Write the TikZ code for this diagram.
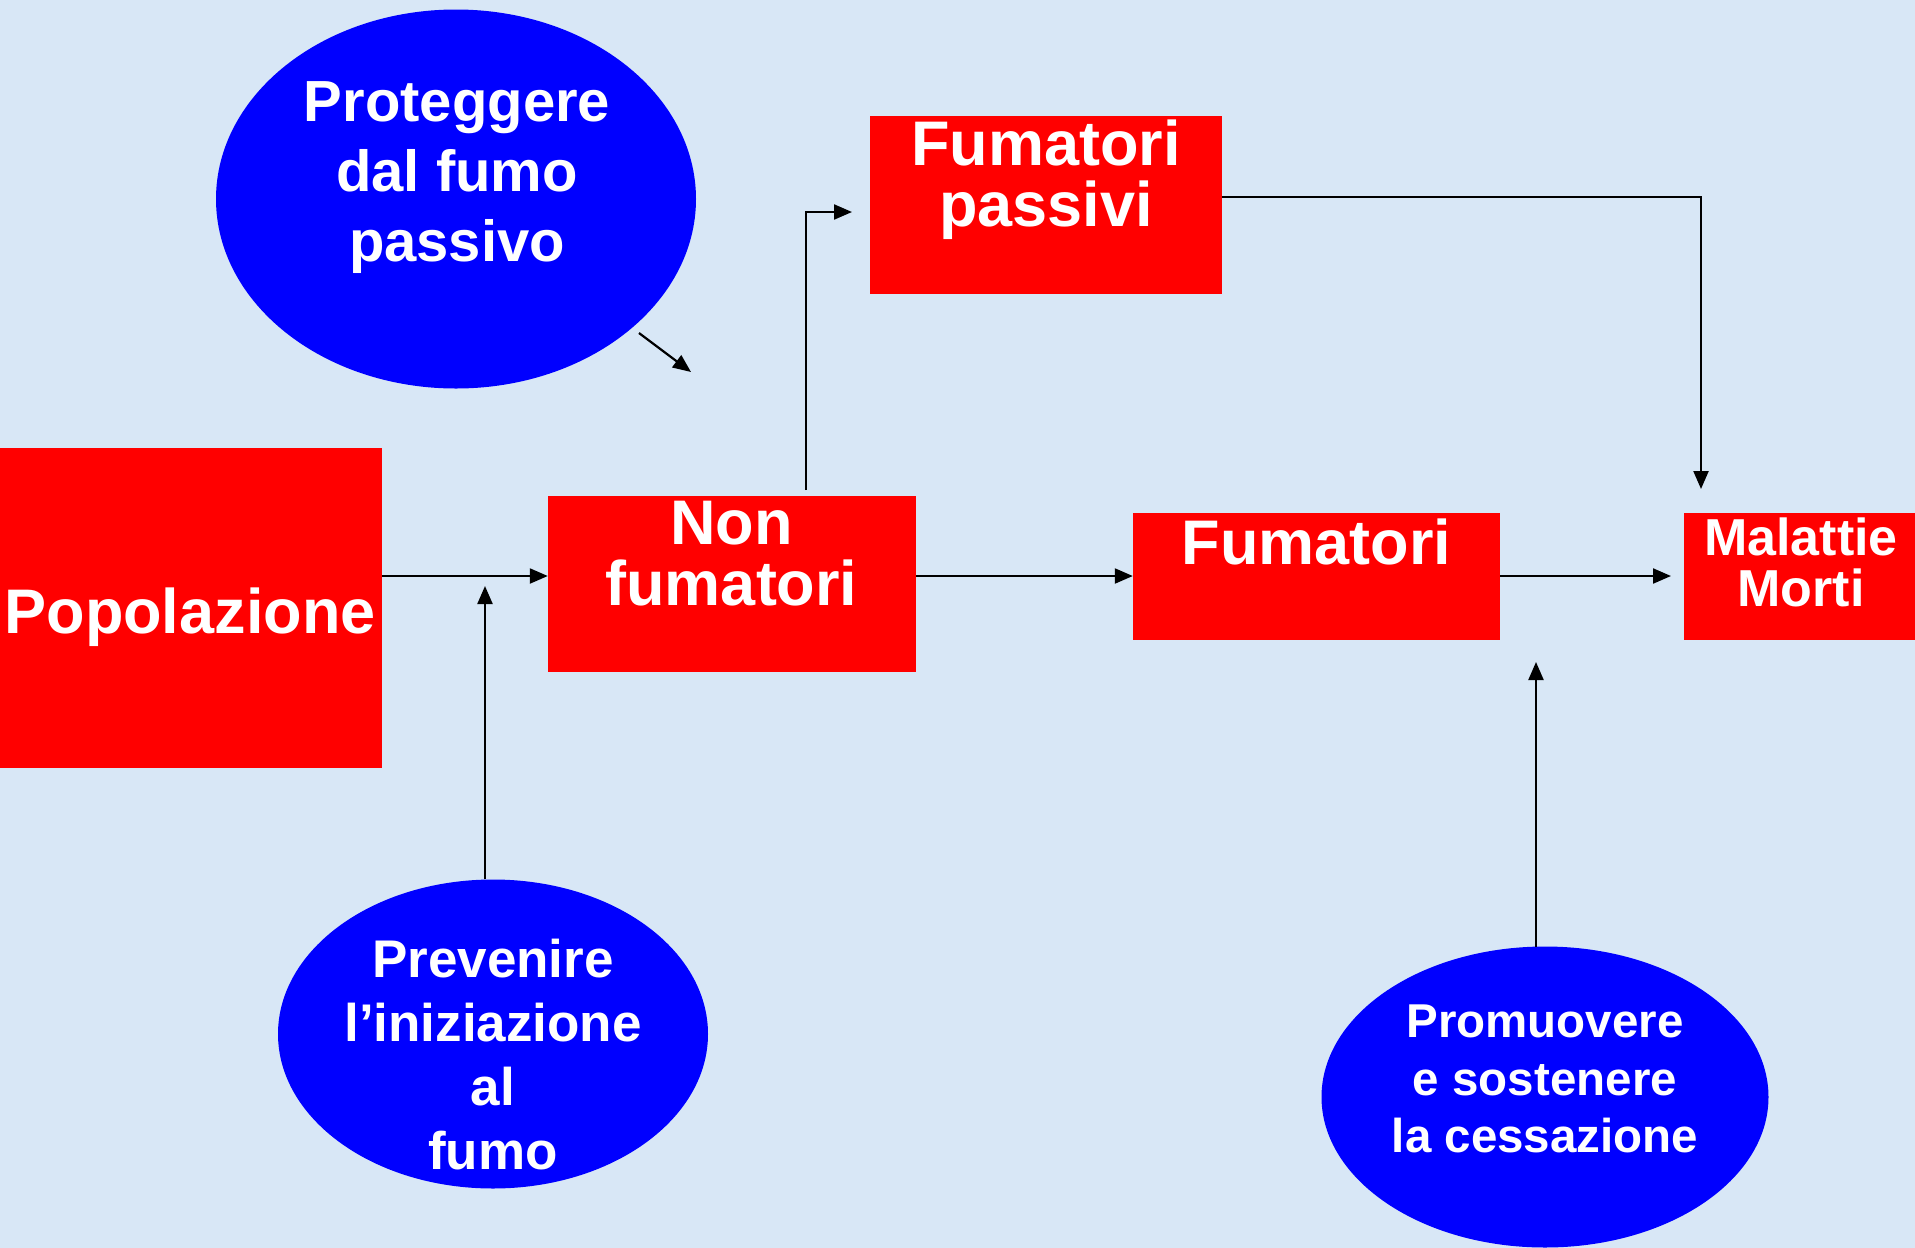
\documentclass[tikz,border=0pt]{standalone}
\usepackage{fontspec}
\setmainfont{Liberation Sans}
\usetikzlibrary{shapes.geometric,arrows.meta}
\definecolor{bgblue}{RGB}{216,231,246}
\definecolor{boxred}{RGB}{255,0,0}
\definecolor{ellblue}{RGB}{0,0,255}
\begin{document}
\begin{tikzpicture}[x=1pt,y=-1pt,
  redbox/.style={fill=boxred, draw=none, inner sep=0pt, rectangle},
  blueell/.style={fill=ellblue, draw=none, inner sep=0pt, ellipse},
  lbl/.style={anchor=north, align=center, text=white, inner sep=0pt, font=\bfseries},
  arr/.style={line width=2.2pt, -{Triangle[length=18pt,width=15pt]}}]
\useasboundingbox (0,0) rectangle (1915,1248);
\fill[bgblue] (0,0) rectangle (1915,1248);

% boxes
\node[redbox, minimum width=382pt, minimum height=320pt] (pop) at (191,608) {};
\node[redbox, minimum width=368pt, minimum height=176pt] (non) at (732,584) {};
\node[redbox, minimum width=367pt, minimum height=127pt] (fum) at (1316.5,576.5) {};
\node[redbox, minimum width=231pt, minimum height=127pt] (mal) at (1799.5,576.5) {};
\node[redbox, minimum width=352pt, minimum height=178pt] (pas) at (1046,205) {};

% ellipses
\node[blueell, minimum width=480pt, minimum height=379pt] (prot) at (456,199) {};
\node[blueell, minimum width=430pt, minimum height=309pt] (prev) at (493,1034) {};
\node[blueell, minimum width=447pt, minimum height=301pt] (prom) at (1545,1097) {};

% texts
\node[lbl, font=\bfseries\fontsize{63}{61}\selectfont] (popT) at (190,588) {Popolazione};
\node[lbl, font=\bfseries\fontsize{63}{61}\selectfont] (nonT) at (731.5,501) {Non\\fumatori};
\node[lbl, font=\bfseries\fontsize{63}{61}\selectfont] (fumT) at (1316.5,519) {Fumatori};
\node[lbl, font=\bfseries\fontsize{52}{51}\selectfont] (malT) at (1801,518) {Malattie\\Morti};
\node[lbl, font=\bfseries\fontsize{63}{61}\selectfont] (pasT) at (1046,120) {Fumatori\\passivi};
\node[lbl, font=\bfseries\fontsize{58}{70}\selectfont] (protT) at (457,81) {Proteggere\\dal fumo\\passivo};
\node[lbl, font=\bfseries\fontsize{53}{64}\selectfont] (prevT) at (493,939) {Prevenire\\l’iniziazione\\al\\fumo};
\node[lbl, font=\bfseries\fontsize{47.5}{57.5}\selectfont] (promT) at (1545,1005) {Promuovere\\e sostenere\\la cessazione};

% helper coordinates
\coordinate (rowY) at (0,576);
\coordinate (preA) at (485,586);
\coordinate (nonUp) at (806,490);
\coordinate (nonBend) at (806,212);
\coordinate (pasIn) at (852,212);
\coordinate (pasOut) at (1222,197);
\coordinate (malBend) at (1701,197);
\coordinate (malIn) at (1701,489);
\coordinate (fumEnd) at (1671,576);
\coordinate (promA) at (1536,662);
\coordinate (promB) at (1536,947);
\coordinate (protA) at (639,333);
\coordinate (protB) at (691,372);

% connectors
\draw[arr] (pop.east |- rowY) -- (non.west |- rowY);
\draw[arr] (non.east |- rowY) -- (fum.west |- rowY);
\draw[arr] (fum.east |- rowY) -- (fumEnd);
\draw[arr] (preA |- prev.north) -- (preA);
\draw[arr] (nonUp) -- (nonBend) -- (pasIn);
\draw[arr] (pasOut) -- (malBend) -- (malIn);
\draw[arr] (promB) -- (promA);
\draw[arr] (protA) -- (protB);
\end{tikzpicture}
\end{document}
